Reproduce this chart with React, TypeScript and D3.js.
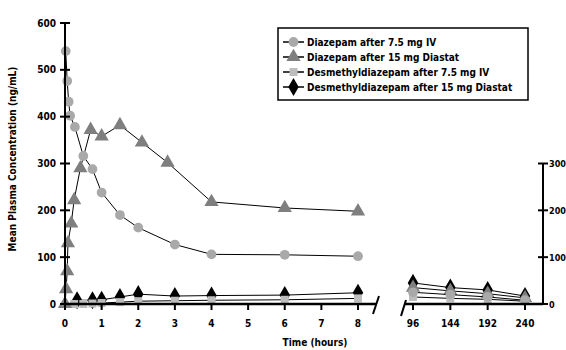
import React from "react";
import * as d3 from "d3";

// Early segment (hours 0-8)
const ivDzpT = [0.02, 0.06, 0.1, 0.14, 0.27, 0.5, 0.75, 1, 1.5, 2, 3, 4, 6, 8];
const ivDzpV = [540, 476, 432, 402, 378, 316, 288, 238, 190, 163, 127, 106, 105, 102];
const diaDzpT = [0, 0.03, 0.06, 0.08, 0.17, 0.25, 0.42, 0.7, 1, 1.5, 2.1, 2.8, 4, 6, 8];
const diaDzpV = [0, 32, 70, 130, 172, 222, 290, 372, 358, 382, 345, 302, 218, 205, 198];
const ivDesT = [0.25, 0.5, 0.75, 1, 1.5, 2, 3, 4, 6, 8];
const ivDesV = [0, 0, 1, 2, 4, 6, 7, 8, 9, 12];
const diaDesT = [0.33, 0.75, 1, 1.5, 2, 3, 4, 6, 8];
const diaDesV = [8, 8, 9, 15, 21, 17, 18, 19, 24];

// Late segment (hours 96-240)
const lateT = [96, 144, 192, 240];
const ivDzpLate = [25, 20, 15, 8];
const diaDzpLate = [35, 28, 22, 13];
const ivDesLate = [15, 12, 10, 6];
const diaDesLate = [45, 35, 30, 17];

const yTicks = [0, 100, 200, 300, 400, 500, 600];
const rightTicks = [0, 100, 200, 300];
const xTicks1 = [0, 1, 2, 3, 4, 5, 6, 7, 8];
const xTicks2 = [96, 144, 192, 240];

const seriesNames = [
  "Diazepam after 7.5 mg IV",
  "Diazepam after 15 mg Diastat",
  "Desmethyldiazepam after 7.5 mg IV",
  "Desmethyldiazepam after 15 mg Diastat",
];

const FONT = "'Liberation Sans Narrow', 'Arial Narrow', 'DejaVu Sans Condensed', sans-serif";

export default function App() {
  const y = d3.scaleLinear().domain([0, 600]).range([304, 23]);
  const x1 = d3.scaleLinear().domain([0, 8]).range([65, 358]);
  const x2 = d3.scaleLinear().domain([96, 240]).range([413, 525]);

  const styles = [
    { fill: "#a9a9a9", sym: d3.symbolCircle, size: 75 },
    { fill: "#7f7f7f", sym: d3.symbolTriangle, size: 88 },
    { fill: "#bdbdbd", sym: d3.symbolSquare, size: 64 },
    { fill: "#000000", sym: d3.symbolDiamond, size: 95 },
  ];

  const series = [
    { t: ivDzpT, v: ivDzpV, lv: ivDzpLate },
    { t: diaDzpT, v: diaDzpV, lv: diaDzpLate },
    { t: ivDesT, v: ivDesV, lv: ivDesLate },
    { t: diaDesT, v: diaDesV, lv: diaDesLate },
  ];

  const line = d3.line<[number, number]>().x((d) => d[0]).y((d) => d[1]);

  const drawSeries = (s: any, i: number) => {
    const st = styles[i];
    const early: [number, number][] = s.t.map((t: number, j: number) => [x1(t), y(s.v[j])]);
    const late: [number, number][] = lateT.map((t, j) => [x2(t), y(s.lv[j])]);
    const symPath = d3.symbol().type(st.sym).size(st.size)() as string;
    return (
      <g key={i}>
        <path d={line(early) as string} fill="none" stroke="#000" strokeWidth={1} />
        <path d={line(late) as string} fill="none" stroke="#000" strokeWidth={1} />
        {[...early, ...late].map((p, j) => (
          <path key={j} d={symPath} transform={`translate(${p[0]},${p[1]})`} fill={st.fill} />
        ))}
      </g>
    );
  };

  const legendY = [42, 57, 72, 87];

  return (
    <svg width={566} height={350} style={{ position: "absolute", left: 0, top: 0, background: "#fff" }}>
      <rect x={0} y={0} width={566} height={350} fill="#fff" />
      {/* series */}
      {[3, 2, 1, 0].map((i) => drawSeries(series[i], i))}

      {/* left y axis */}
      <line x1={65} x2={65} y1={y(600)} y2={y(0)} stroke="#000" strokeWidth={2} />
      {yTicks.map((t) => (
        <g key={t}>
          <line x1={60} x2={70} y1={y(t)} y2={y(t)} stroke="#000" strokeWidth={2} />
          <text x={56} y={y(t) + 3.5} textAnchor="end" fontFamily={FONT} fontSize={10} fontWeight="bold">
            {t}
          </text>
        </g>
      ))}
      {/* right y axis */}
      <line x1={543} x2={543} y1={y(300)} y2={y(0)} stroke="#000" strokeWidth={2} />
      {rightTicks.map((t) => (
        <g key={t}>
          <line x1={538} x2={548} y1={y(t)} y2={y(t)} stroke="#000" strokeWidth={2} />
          <text x={549} y={y(t) + 3.5} fontFamily={FONT} fontSize={9} fontWeight="bold">
            {t}
          </text>
        </g>
      ))}

      {/* x axis segment 1 */}
      <line x1={65} x2={376} y1={304} y2={304} stroke="#000" strokeWidth={2.5} />
      {xTicks1.map((t) => (
        <g key={t}>
          <line x1={x1(t)} x2={x1(t)} y1={304} y2={310} stroke="#000" strokeWidth={2} />
          <text x={x1(t)} y={327} textAnchor="middle" fontFamily={FONT} fontSize={10} fontWeight="bold">
            {t}
          </text>
        </g>
      ))}
      <line x1={373} x2={379} y1={314} y2={296} stroke="#000" strokeWidth={2} />
      {/* x axis segment 2 */}
      <line x1={404} x2={543} y1={304} y2={304} stroke="#000" strokeWidth={2.5} />
      <line x1={401} x2={406} y1={316} y2={300} stroke="#000" strokeWidth={2} />
      {xTicks2.map((t) => (
        <g key={t}>
          <line x1={x2(t)} x2={x2(t)} y1={304} y2={310} stroke="#000" strokeWidth={2} />
          <text x={x2(t)} y={327} textAnchor="middle" fontFamily={FONT} fontSize={10} fontWeight="bold">
            {t}
          </text>
        </g>
      ))}

      {/* axis titles */}
      <text x={315} y={346} textAnchor="middle" fontFamily={FONT} fontSize={10} fontWeight="bold">
        Time (hours)
      </text>
      <text
        transform="translate(16,159) rotate(-90)"
        textAnchor="middle"
        fontFamily={FONT}
        fontSize={10}
        fontWeight="bold"
      >
        Mean Plasma Concentration (ng/mL)
      </text>

      {/* legend */}
      <rect x={278} y={28} width={250} height={72} fill="#fff" stroke="#000" strokeWidth={1.5} />
      {seriesNames.map((name, i) => {
        const st = styles[i];
        const symPath = d3.symbol().type(st.sym).size(st.size)() as string;
        return (
          <g key={name}>
            <line x1={283} x2={304} y1={legendY[i]} y2={legendY[i]} stroke="#000" strokeWidth={1.5} />
            <path d={symPath} transform={`translate(293.5,${legendY[i]})`} fill={st.fill} />
            <text x={307} y={legendY[i] + 3.5} fontFamily={FONT} fontSize={10} fontWeight="bold">
              {name}
            </text>
          </g>
        );
      })}
    </svg>
  );
}
